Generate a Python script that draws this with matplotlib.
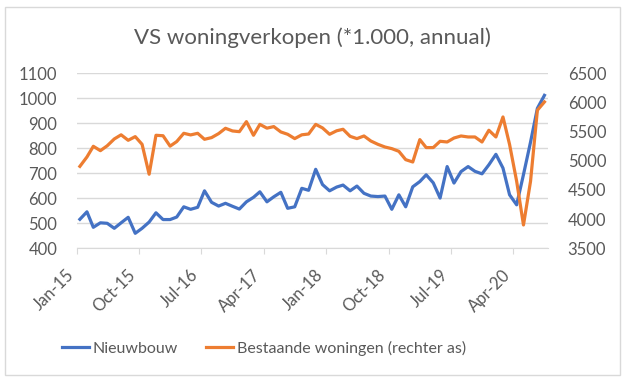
import matplotlib
matplotlib.use("Agg")
import matplotlib.pyplot as plt
import matplotlib.dates as mdates
from matplotlib.patches import Rectangle
from matplotlib.transforms import ScaledTranslation
import pandas as pd

plt.rcParams['font.family'] = ['Lato', 'DejaVu Sans']

# monthly data, Jan-15 .. Aug-20
nieuwbouw = [516, 546, 484, 502, 500, 480, 502, 524, 460, 480, 505, 542,
             515, 515, 525, 566, 556, 564, 630, 584, 569, 580, 568, 557,
             586, 604, 626, 586, 606, 624, 560, 566, 640, 632, 716, 655,
             630, 645, 653, 630, 649, 620, 609, 607, 609, 556, 614, 566,
             646, 667, 694, 662, 601, 727, 661, 707, 727, 708, 698, 734,
             776, 721, 614, 574, 695, 825, 960, 1012]
bestaand = [4905, 5066, 5249, 5174, 5258, 5375, 5446, 5352, 5415, 5283, 4770, 5438,
            5430, 5252, 5330, 5472, 5444, 5472, 5369, 5398, 5467, 5558, 5512, 5500,
            5672, 5438, 5625, 5560, 5587, 5495, 5455, 5381, 5446, 5460, 5625, 5564,
            5455, 5515, 5541, 5420, 5381, 5426, 5340, 5283, 5237, 5209, 5163, 5020,
            4980, 5364, 5227, 5227, 5335, 5323, 5391, 5426, 5409, 5409, 5323, 5524,
            5409, 5752, 5280, 4650, 3900, 4650, 5868, 6010]
months = pd.date_range('2015-01-01', periods=len(nieuwbouw), freq='MS') + pd.Timedelta(days=14)
tick_dates = pd.date_range('2015-01-01', '2020-04-01', freq='9MS')

left_ticks = list(range(400, 1101, 100))
right_ticks = list(range(3500, 6501, 500))

blue = '#4472C4'
orange = '#ED7D31'
grey = '#595959'

fig = plt.figure(figsize=(6.25, 3.82), dpi=100)
fig.patches.append(Rectangle((0.008, 0.018), 0.984, 0.963, transform=fig.transFigure,
                             fill=False, edgecolor='#d9d9d9', linewidth=1))
ax = fig.add_axes([0.1227, 0.35, 0.7546, 0.458])
ax2 = ax.twinx()

l1, = ax.plot(months, nieuwbouw, color=blue, lw=2.3, solid_joinstyle='round', zorder=3)
l2, = ax2.plot(months, bestaand, color=orange, lw=2.3, solid_joinstyle='round', zorder=3)

ax.set_ylim(400, 1100)
ax.set_yticks(left_ticks)
ax2.set_ylim(3500, 6500)
ax2.set_yticks(right_ticks)
ax.set_xlim(pd.Timestamp('2015-01-01'), pd.Timestamp('2020-09-01'))
ax.set_xticks(tick_dates)
ax.xaxis.set_major_formatter(mdates.DateFormatter('%b-%y'))

ax.grid(axis='y', color='#d9d9d9', lw=1)
ax.set_axisbelow(True)
for a in (ax, ax2):
    for s in a.spines.values():
        s.set_visible(False)
ax.spines['bottom'].set_visible(True)
ax.spines['bottom'].set_color('#d9d9d9')

ax.tick_params(axis='y', length=0, pad=14, labelsize=12, labelcolor=grey)
ax2.tick_params(axis='y', length=0, pad=14, labelsize=12, labelcolor=grey)
ax.tick_params(axis='x', length=4.3, color='#d9d9d9', pad=13, labelsize=12, labelcolor=grey)
shift = ScaledTranslation(-4 / 72, 0, fig.dpi_scale_trans)
for lab in ax.get_xticklabels():
    lab.set_rotation(45)
    lab.set_ha('right')
    lab.set_va('center')
    lab.set_rotation_mode('anchor')
    lab.set_transform(lab.get_transform() + shift)

fig.text(0.5, 0.9, 'VS woningverkopen (*1.000, annual)', ha='center', va='center',
         fontsize=16, color=grey)
fig.legend([l1, l2], ['Nieuwbouw', 'Bestaande woningen (rechter as)'],
           loc='center left', bbox_to_anchor=(0.099, 0.088), ncol=2, frameon=False,
           borderpad=0, borderaxespad=0, fontsize=11.5, labelcolor=grey,
           handlelength=1.7, handletextpad=0.2, columnspacing=1.8)

fig.savefig('out.png', dpi=100)
